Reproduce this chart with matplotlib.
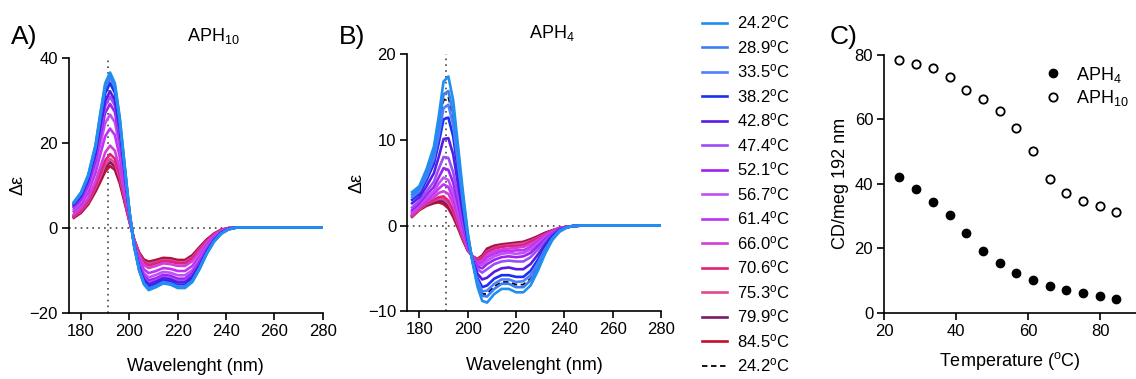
import numpy as np
import matplotlib
matplotlib.use('Agg')
import matplotlib.pyplot as plt

plt.rcParams['font.family'] = ['Liberation Sans', 'DejaVu Sans']
plt.rcParams['mathtext.fontset'] = 'custom'
plt.rcParams['mathtext.rm'] = 'Liberation Sans'
plt.rcParams['mathtext.it'] = 'Liberation Sans:italic'

# temperatures (spectra recorded while heating, plus return to 24.2 C)
temps = [24.2, 28.9, 33.5, 38.2, 42.8, 47.4, 52.1, 56.7, 61.4, 66.0, 70.6, 75.3, 79.9, 84.5]
colors = ['#1f8ff0', '#3a7ef2', '#4d7fff', '#1a2ff0', '#5a1ae6', '#9a4ef5', '#a020f0',
          '#c050f5', '#c030f5', '#d040d8', '#e0207a', '#e04890', '#7a1a6a', '#c0102a']

wl = [177, 180, 183, 186, 188, 190, 192, 194, 196, 198, 200, 202, 204, 206, 208,
      211, 214, 217, 220, 223, 226, 229, 232, 235, 238, 241, 244, 248, 260, 280]

# APH10 spectra, delta epsilon, one row per temperature
aph10 = [
    [6.0, 8.3, 12.5, 19.5, 27.0, 34.0, 36.5, 34.0, 26.0, 15.0, 4.0, -4.5, -10.0, -13.3, -14.7, -14.0, -13.1, -13.4, -14.2, -14.2, -12.8, -9.8, -6.2, -3.3, -1.4, -0.4, 0, 0, 0, 0],
    [5.9, 8.2, 12.3, 19.3, 26.6, 33.5, 36.0, 33.5, 25.6, 14.8, 3.9, -4.5, -9.9, -13.2, -14.5, -13.9, -13.0, -13.3, -14.0, -14.0, -12.7, -9.7, -6.1, -3.3, -1.4, -0.4, 0, 0, 0, 0],
    [5.8, 8.0, 12.1, 18.9, 26.1, 32.9, 35.3, 32.9, 25.1, 14.5, 3.9, -4.4, -9.8, -13.0, -14.3, -13.7, -12.8, -13.1, -13.8, -13.8, -12.5, -9.5, -6.0, -3.2, -1.4, -0.4, 0, 0, 0, 0],
    [5.6, 7.8, 11.7, 18.3, 25.2, 31.6, 34.0, 31.7, 24.2, 14.0, 3.7, -4.3, -9.5, -12.6, -13.9, -13.3, -12.4, -12.7, -13.5, -13.5, -12.1, -9.2, -5.8, -3.1, -1.3, -0.4, 0, 0, 0, 0],
    [5.3, 7.3, 11.1, 17.3, 23.8, 29.8, 32.1, 29.9, 22.9, 13.2, 3.5, -4.2, -9.2, -12.1, -13.4, -12.7, -11.9, -12.2, -12.9, -12.9, -11.5, -8.8, -5.5, -2.9, -1.2, -0.3, 0, 0, 0, 0],
    [5.0, 7.1, 10.7, 16.7, 22.8, 28.6, 30.8, 28.7, 22.0, 12.7, 3.4, -4.1, -8.9, -11.8, -13.0, -12.3, -11.6, -11.8, -12.5, -12.5, -11.2, -8.5, -5.3, -2.8, -1.2, -0.3, 0, 0, 0, 0],
    [4.8, 6.7, 10.2, 15.8, 21.6, 27.0, 29.1, 27.2, 20.8, 12.0, 3.2, -3.9, -8.6, -11.4, -12.4, -11.9, -11.1, -11.3, -12.0, -12.0, -10.7, -8.1, -5.1, -2.7, -1.1, -0.3, 0, 0, 0, 0],
    [4.3, 6.1, 9.4, 14.6, 19.7, 24.6, 26.6, 24.8, 19.0, 11.0, 2.9, -3.7, -8.1, -10.7, -11.7, -11.1, -10.4, -10.6, -11.2, -11.2, -10.0, -7.5, -4.7, -2.5, -1.0, -0.3, 0, 0, 0, 0],
    [3.8, 5.4, 8.3, 12.9, 17.3, 21.5, 23.3, 21.8, 16.7, 9.6, 2.5, -3.5, -7.5, -9.8, -10.7, -10.2, -9.5, -9.7, -10.2, -10.2, -9.0, -6.7, -4.2, -2.2, -0.9, -0.2, 0, 0, 0, 0],
    [3.1, 4.6, 7.0, 10.9, 14.3, 17.7, 19.3, 18.1, 13.9, 8.0, 2.1, -3.2, -6.7, -8.8, -9.5, -9.0, -8.4, -8.6, -9.0, -9.0, -7.9, -5.7, -3.5, -1.8, -0.7, -0.2, 0, 0, 0, 0],
    [2.8, 4.1, 6.4, 9.9, 12.9, 15.8, 17.3, 16.2, 12.5, 7.1, 1.8, -3.0, -6.3, -8.2, -8.9, -8.4, -7.9, -8.0, -8.4, -8.4, -7.3, -5.3, -3.2, -1.6, -0.6, -0.1, 0, 0, 0, 0],
    [2.6, 3.9, 6.0, 9.4, 12.0, 14.8, 16.2, 15.2, 11.7, 6.7, 1.7, -2.9, -6.1, -8.0, -8.5, -8.1, -7.6, -7.7, -8.1, -8.1, -7.0, -5.0, -3.1, -1.6, -0.6, -0.1, 0, 0, 0, 0],
    [2.5, 3.7, 5.8, 9.0, 11.5, 14.1, 15.4, 14.4, 11.1, 6.4, 1.6, -2.9, -6.0, -7.7, -8.3, -7.9, -7.4, -7.5, -7.9, -7.9, -6.8, -4.8, -2.9, -1.5, -0.5, -0.1, 0, 0, 0, 0],
    [2.3, 3.5, 5.5, 8.5, 10.8, 13.2, 14.5, 13.6, 10.5, 6.0, 1.5, -2.8, -5.8, -7.5, -8.0, -7.6, -7.1, -7.2, -7.6, -7.6, -6.5, -4.6, -2.8, -1.4, -0.5, -0.1, 0, 0, 0, 0],
]
aph10_back = [5.7, 7.9, 12.0, 18.7, 25.8, 32.6, 35.0, 32.6, 24.9, 14.4, 3.8, -4.4, -9.7, -12.9, -14.2, -13.6, -12.7, -13.0, -13.7, -13.7, -12.4, -9.4, -5.9, -3.2, -1.3, -0.4, 0, 0, 0, 0]

# APH4 spectra
aph4 = [
    [3.9, 4.6, 6.6, 9.2, 12.7, 16.8, 17.4, 14.6, 9.3, 4.0, -0.8, -4.3, -7.1, -8.8, -9.0, -8.0, -7.4, -7.4, -7.8, -7.8, -7.0, -5.3, -3.3, -1.7, -0.7, -0.25, -0.05, 0, 0, 0],
    [3.6, 4.3, 6.1, 8.5, 11.6, 15.3, 15.7, 13.1, 8.3, 3.4, -1.0, -4.2, -6.8, -8.2, -8.3, -7.4, -6.8, -6.8, -7.2, -7.2, -6.4, -4.9, -3.0, -1.6, -0.7, -0.2, -0.05, 0, 0, 0],
    [3.3, 4.0, 5.7, 7.8, 10.5, 13.7, 14.1, 11.7, 7.2, 2.8, -1.3, -4.2, -6.4, -7.7, -7.6, -6.8, -6.3, -6.3, -6.6, -6.5, -5.8, -4.4, -2.8, -1.5, -0.6, -0.2, -0.05, 0, 0, 0],
    [3.0, 3.7, 5.3, 7.2, 9.6, 12.4, 12.6, 10.4, 6.3, 2.2, -1.5, -4.1, -6.1, -7.2, -7.0, -6.2, -5.8, -5.8, -6.0, -6.0, -5.3, -4.0, -2.5, -1.3, -0.6, -0.2, -0.05, 0, 0, 0],
    [2.6, 3.3, 4.6, 6.1, 8.0, 10.1, 10.2, 8.3, 4.8, 1.3, -1.8, -4.0, -5.6, -6.3, -6.1, -5.4, -5.0, -4.9, -5.1, -5.1, -4.5, -3.4, -2.2, -1.2, -0.5, -0.2, -0.05, 0, 0, 0],
    [2.1, 2.9, 4.0, 5.1, 6.6, 8.0, 7.9, 6.2, 3.4, 0.5, -2.1, -3.9, -5.1, -5.5, -5.1, -4.5, -4.2, -4.1, -4.2, -4.2, -3.7, -2.8, -1.8, -1.0, -0.5, -0.2, -0.05, 0, 0, 0],
    [1.8, 2.6, 3.6, 4.5, 5.6, 6.7, 6.5, 5.0, 2.5, 0.0, -2.3, -3.8, -4.8, -5.0, -4.5, -4.0, -3.7, -3.6, -3.7, -3.6, -3.2, -2.4, -1.6, -0.9, -0.4, -0.2, -0.05, 0, 0, 0],
    [1.6, 2.4, 3.2, 4.0, 4.9, 5.6, 5.3, 3.9, 1.8, -0.5, -2.5, -3.8, -4.6, -4.6, -4.1, -3.6, -3.3, -3.2, -3.3, -3.2, -2.8, -2.1, -1.4, -0.8, -0.4, -0.2, -0.05, 0, 0, 0],
    [1.5, 2.3, 3.0, 3.7, 4.3, 4.8, 4.5, 3.2, 1.3, -0.8, -2.6, -3.7, -4.4, -4.4, -3.7, -3.3, -3.0, -3.0, -2.9, -2.9, -2.5, -1.9, -1.3, -0.7, -0.4, -0.2, -0.05, 0, 0, 0],
    [1.3, 2.1, 2.8, 3.3, 3.8, 4.0, 3.7, 2.5, 0.7, -1.1, -2.7, -3.7, -4.3, -4.1, -3.4, -3.0, -2.8, -2.7, -2.6, -2.5, -2.2, -1.7, -1.1, -0.7, -0.3, -0.2, -0.05, 0, 0, 0],
    [1.2, 2.0, 2.6, 3.0, 3.3, 3.4, 2.9, 1.8, 0.3, -1.4, -2.8, -3.6, -4.1, -3.8, -3.1, -2.7, -2.5, -2.4, -2.4, -2.3, -1.9, -1.5, -1.0, -0.6, -0.3, -0.15, -0.05, 0, 0, 0],
    [1.1, 1.9, 2.5, 2.9, 3.1, 3.1, 2.6, 1.6, 0.1, -1.5, -2.8, -3.6, -4.0, -3.7, -3.0, -2.6, -2.4, -2.3, -2.2, -2.1, -1.8, -1.4, -1.0, -0.6, -0.3, -0.15, -0.05, 0, 0, 0],
    [1.1, 1.9, 2.4, 2.7, 2.9, 2.8, 2.3, 1.3, -0.1, -1.6, -2.9, -3.6, -4.0, -3.6, -2.8, -2.5, -2.3, -2.2, -2.1, -2.0, -1.7, -1.3, -0.9, -0.6, -0.3, -0.15, -0.05, 0, 0, 0],
    [1.0, 1.8, 2.3, 2.6, 2.7, 2.5, 2.0, 1.0, -0.3, -1.7, -2.9, -3.6, -3.9, -3.5, -2.7, -2.35, -2.2, -2.1, -2.0, -1.9, -1.6, -1.25, -0.85, -0.55, -0.3, -0.15, -0.05, 0, 0, 0],
]
aph4_back = [3.5, 4.2, 5.9, 8.2, 11.2, 14.6, 15.0, 12.5, 7.8, 3.1, -1.1, -4.2, -6.6, -8.0, -8.0, -7.1, -6.6, -6.6, -6.9, -6.9, -6.2, -4.7, -2.9, -1.5, -0.6, -0.2, -0.05, 0, 0, 0]

# panel C: CD at 192 nm vs temperature
cd_aph4 = [42.1, 38.3, 34.4, 30.2, 24.6, 19.3, 15.3, 12.4, 10.0, 8.2, 6.9, 6.0, 5.2, 4.3]
cd_aph10 = [78.4, 77.3, 76.0, 73.1, 69.0, 66.3, 62.6, 57.2, 50.2, 41.4, 37.2, 34.8, 33.2, 31.2]

fig = plt.figure(figsize=(11.36, 3.79), dpi=100)
axA = fig.add_axes([0.0607, 0.175, 0.2234, 0.673])
axB = fig.add_axes([0.3585, 0.179, 0.2235, 0.678])
axC = fig.add_axes([0.7784, 0.175, 0.2216, 0.680])


def style(ax):
    for s in ['top', 'right']:
        ax.spines[s].set_visible(False)
    for s in ['left', 'bottom']:
        ax.spines[s].set_linewidth(1.2)
    ax.tick_params(direction='out', length=5, width=1.2, labelsize=12, pad=3)


def spectra(ax, data, back, ylim, yticks, title):
    ax.axhline(0, color='#444444', ls=(0, (1, 2.5)), lw=1.2, zorder=1)
    ax.axvline(191, color='#444444', ls=(0, (1, 2.5)), lw=1.2, zorder=1)
    lines = []
    n = len(temps)
    for i, (t, c, row) in enumerate(zip(temps, colors, data)):
        # cooler (blue) spectra drawn on top, as in the original figure
        ln, = ax.plot(wl, row, color=c, lw=1.9, solid_joinstyle='round',
                      label='%.1f$^{\\mathregular{o}}$C' % t, zorder=3 + n - i)
        lines.append(ln)
    ln, = ax.plot(wl, back, color='black', lw=1.3, ls=(0, (3, 2)),
                  label='24.2$^{\\mathregular{o}}$C', zorder=2)
    lines.append(ln)
    ax.set_xlim(175, 280)
    ax.set_ylim(*ylim)
    ax.set_xticks([180, 200, 220, 240, 260, 280])
    ax.set_yticks(yticks)
    ax.set_xlabel('Wavelenght (nm)', fontsize=13, labelpad=14)
    ax.set_ylabel('\u0394\u03b5', fontsize=13, labelpad=2)
    ax.set_title(title, fontsize=13, pad=12, x=0.57)
    style(ax)
    return lines


spectra(axA, aph10, aph10_back, (-20, 40), [-20, 0, 20, 40], 'APH$_{10}$')
handles = spectra(axB, aph4, aph4_back, (-10, 20), [-10, 0, 10, 20], 'APH$_4$')

fig.legend(handles=handles, loc='upper left', bbox_to_anchor=(0.612, 0.982),
           frameon=False, fontsize=12, handlelength=1.5, handletextpad=0.6,
           labelspacing=0.39, borderaxespad=0)

axC.plot(temps, cd_aph4, 'o', color='black', ms=6, label='APH$_4$')
axC.plot(temps, cd_aph10, 'o', mfc='white', mec='black', mew=1.3, ms=6, label='APH$_{10}$')
axC.set_xlim(20, 90)
axC.set_ylim(0, 80)
axC.set_xticks([20, 40, 60, 80])
axC.set_yticks([0, 20, 40, 60, 80])
axC.set_xlabel('Temperature ($^{\\mathregular{o}}$C)', fontsize=13, labelpad=8)
axC.set_ylabel('CD/meg 192 nm', fontsize=13, labelpad=4)
axC.legend(loc='upper right', bbox_to_anchor=(1.0, 0.99), frameon=False, fontsize=13,
           handletextpad=0.3, labelspacing=0.2, borderaxespad=0)
style(axC)

fig.text(0.010, 0.885, 'A)', fontsize=19)
fig.text(0.298, 0.885, 'B)', fontsize=19)
fig.text(0.730, 0.885, 'C)', fontsize=19)

fig.savefig('out.png', dpi=100)
